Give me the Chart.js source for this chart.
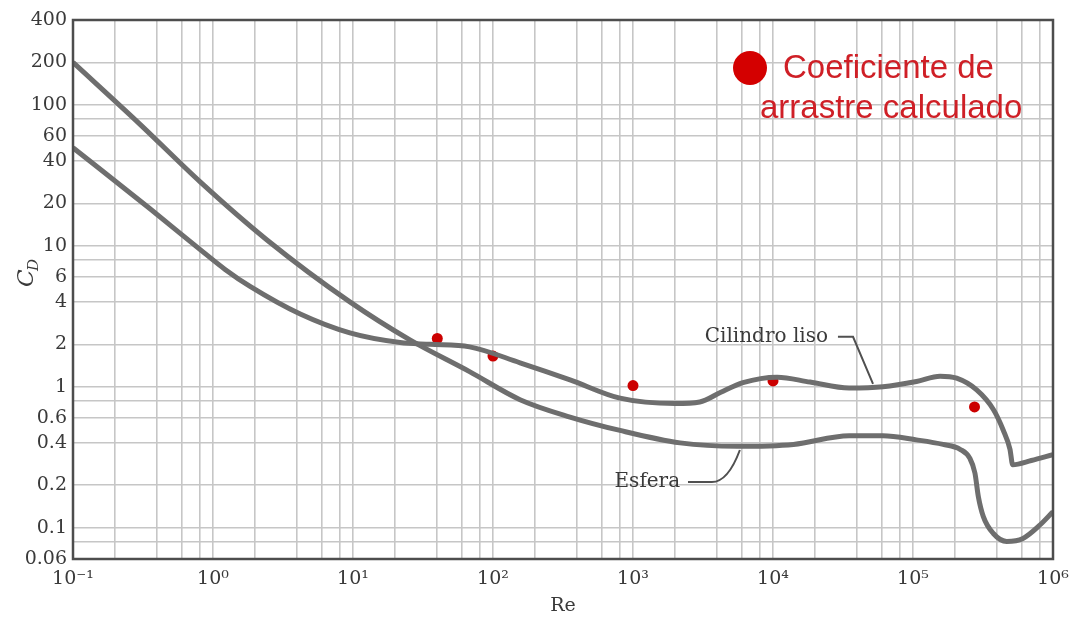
<!DOCTYPE html>
<html>
<head>
<meta charset="utf-8">
<script src="https://cdn.jsdelivr.net/npm/chart.js@4.4.1/dist/chart.umd.min.js"></script>
<style>
  html, body { margin: 0; padding: 0; background: #fff; }
</style>
</head>
<body>
<canvas id="cdChart" width="1069" height="622"></canvas>
<script>
// Curva de la esfera (Re, C_D)
const esferaRe = [0.1, 0.3, 0.81, 2.43, 9.5, 25.5, 68, 156, 355, 808, 2170, 5500, 1.4e4, 3.5e4, 6.1e4, 1.06e5, 1.64e5, 2.17e5, 2.55e5, 2.77e5, 2.93e5, 3.18e5, 3.75e5, 4.67e5, 6.1e5, 8.1e5, 1e6];
const esferaCd = [200, 73, 28.4, 11.0, 4.0, 2.15, 1.28, 0.81, 0.61, 0.49, 0.40, 0.378, 0.39, 0.45, 0.45, 0.42, 0.39, 0.36, 0.31, 0.244, 0.166, 0.12, 0.091, 0.080, 0.084, 0.105, 0.13];

// Curva del cilindro liso
const cilindroRe = [0.1, 0.355, 0.81, 1.22, 1.84, 4.2, 9.5, 21.7, 35.5, 68, 156, 355, 808, 2000, 3000, 4200, 6100, 1.07e4, 1.84e4, 3.5e4, 6.1e4, 1.06e5, 1.56e5, 2.05e5, 2.85e5, 3.75e5, 4.42e5, 4.93e5, 5.15e5, 7e5, 1e6];
const cilindroCd = [49.6, 18.3, 9.4, 6.8, 5.15, 3.28, 2.41, 2.06, 2.0, 1.92, 1.48, 1.12, 0.83, 0.76, 0.78, 0.91, 1.07, 1.17, 1.08, 0.98, 1.0, 1.09, 1.19, 1.15, 0.95, 0.69, 0.49, 0.36, 0.28, 0.30, 0.33];

// Coeficiente de arrastre calculado (puntos rojos)
const calcRe = [40, 100, 1000, 1e4, 2.75e5];
const calcCd = [2.2, 1.65, 1.02, 1.1, 0.72];

// Ejes
const xTickVals = [0.1, 1, 10, 100, 1e3, 1e4, 1e5, 1e6];
const xTickLabels = ['10⁻¹', '10⁰', '10¹', '10²', '10³', '10⁴', '10⁵', '10⁶'];
const gridMult = [1, 2, 4, 6, 8];
const yTickVals = [400, 200, 100, 60, 40, 20, 10, 6, 4, 2, 1, 0.6, 0.4, 0.2, 0.1, 0.06];
const yTickLabels = ['400', '200', '100', '60', '40', '20', '10', '6', '4', '2', '1', '0.6', '0.4', '0.2', '0.1', '0.06'];
const yGridVals = [400, 200, 100, 80, 60, 40, 20, 10, 8, 6, 4, 2, 1, 0.8, 0.6, 0.4, 0.2, 0.1, 0.08, 0.06];

const xGridVals = [];
for (let k = -1; k <= 5; k++) gridMult.forEach(m => xGridVals.push(m * Math.pow(10, k)));
xGridVals.push(1e6);

function labelFor(vals, labels, v) {
  const i = vals.findIndex(t => Math.abs(Math.log10(t) - Math.log10(v)) < 1e-6);
  return i >= 0 ? labels[i] : '';
}

const serif = 'DejaVu Serif';
const tickFont = { family: serif, size: 19 };
const gridStyle = { color: '#c6c6c6', lineWidth: 1.6, drawTicks: false };

const extras = {
  id: 'extras',
  afterDraw(chart) {
    const c = chart.ctx;
    const a = chart.chartArea;
    const xs = chart.scales.x, ys = chart.scales.y;
    const P = (re, cd) => [xs.getPixelForValue(re), ys.getPixelForValue(cd)];
    c.save();

    // marco
    c.strokeStyle = '#4d4d4d';
    c.lineWidth = 2.5;
    c.strokeRect(a.left, a.top, a.right - a.left, a.bottom - a.top);

    // titulos de ejes
    c.fillStyle = '#3a3a3a';
    c.font = '19px ' + serif;
    c.textAlign = 'center';
    c.textBaseline = 'middle';
    c.fillText('Re', (a.left + a.right) / 2, 606);

    c.save();
    c.translate(27, 274);
    c.rotate(-Math.PI / 2);
    c.font = 'italic 23px ' + serif;
    c.textAlign = 'left';
    c.fillText('C', -13, 0);
    c.font = 'italic 15px ' + serif;
    c.fillText('D', 3, 7);
    c.restore();

    // etiquetas de curvas
    c.font = '20px ' + serif;
    c.textAlign = 'right';
    let [tx, ty] = P(2.47e4, 2.26);
    c.fillText('Cilindro liso', tx, ty);
    [tx, ty] = P(2.17e3, 0.211);
    c.fillText('Esfera', tx, ty);

    c.strokeStyle = '#505050';
    c.lineWidth = 2;
    c.beginPath();
    let p = P(2.91e4, 2.26); c.moveTo(p[0], p[1]);
    p = P(3.73e4, 2.26); c.lineTo(p[0], p[1]);
    p = P(5.18e4, 1.05); c.lineTo(p[0], p[1]);
    c.stroke();

    c.beginPath();
    p = P(2.47e3, 0.211); c.moveTo(p[0], p[1]);
    p = P(3.66e3, 0.211); c.lineTo(p[0], p[1]);
    const q = P(4.77e3, 0.211);
    p = P(5.8e3, 0.356);
    c.quadraticCurveTo(q[0], q[1], p[0], p[1]);
    c.stroke();

    // leyenda
    c.fillStyle = '#d40000';
    c.beginPath();
    c.arc(a.right - 303, a.top + 48, 17, 0, Math.PI * 2);
    c.fill();
    c.fillStyle = '#cf1f26';
    c.font = '33px "Liberation Sans"';
    c.textAlign = 'left';
    c.fillText('Coeficiente de', a.right - 270, a.top + 49);
    c.fillText('arrastre calculado', a.right - 293, a.top + 89);

    c.restore();
  }
};

const ctx = document.getElementById('cdChart').getContext('2d');

new Chart(ctx, {
  type: 'scatter',
  data: {
    datasets: [
      {
        label: 'Cilindro liso',
        data: cilindroRe.map((r, i) => ({ x: r, y: cilindroCd[i] })),
        showLine: true,
        borderColor: '#6e6e6e',
        borderWidth: 5,
        pointRadius: 0,
        cubicInterpolationMode: 'monotone'
      },
      {
        label: 'Esfera',
        data: esferaRe.map((r, i) => ({ x: r, y: esferaCd[i] })),
        showLine: true,
        borderColor: '#6e6e6e',
        borderWidth: 5,
        pointRadius: 0,
        cubicInterpolationMode: 'monotone'
      },
      {
        label: 'Coeficiente de arrastre calculado',
        data: calcRe.map((r, i) => ({ x: r, y: calcCd[i] })),
        showLine: false,
        pointRadius: 5.5,
        pointBackgroundColor: '#cc0000',
        pointBorderWidth: 0
      }
    ]
  },
  options: {
    responsive: false,
    animation: false,
    layout: { padding: { top: 20, right: 16, left: 0, bottom: 0 } },
    plugins: {
      legend: { display: false },
      tooltip: { enabled: false }
    },
    scales: {
      x: {
        type: 'logarithmic',
        min: 0.1,
        max: 1e6,
        afterBuildTicks: s => { s.ticks = xGridVals.map(v => ({ value: v })); },
        afterFit: s => { s.height = 63; s.paddingLeft = 0; s.paddingRight = 0; },
        ticks: {
          autoSkip: false,
          maxRotation: 0,
          minRotation: 0,
          padding: 9,
          color: '#3a3a3a',
          font: tickFont,
          callback: v => labelFor(xTickVals, xTickLabels, v)
        },
        grid: gridStyle,
        border: { display: false }
      },
      y: {
        type: 'logarithmic',
        min: 0.06,
        max: 400,
        afterBuildTicks: s => { s.ticks = yGridVals.map(v => ({ value: v })); },
        afterFit: s => { s.width = 73; s.paddingTop = 0; s.paddingBottom = 0; },
        ticks: {
          autoSkip: false,
          padding: 6,
          color: '#3a3a3a',
          font: tickFont,
          callback: v => labelFor(yTickVals, yTickLabels, v)
        },
        grid: gridStyle,
        border: { display: false }
      }
    }
  },
  plugins: [extras]
});
</script>
</body>
</html>
